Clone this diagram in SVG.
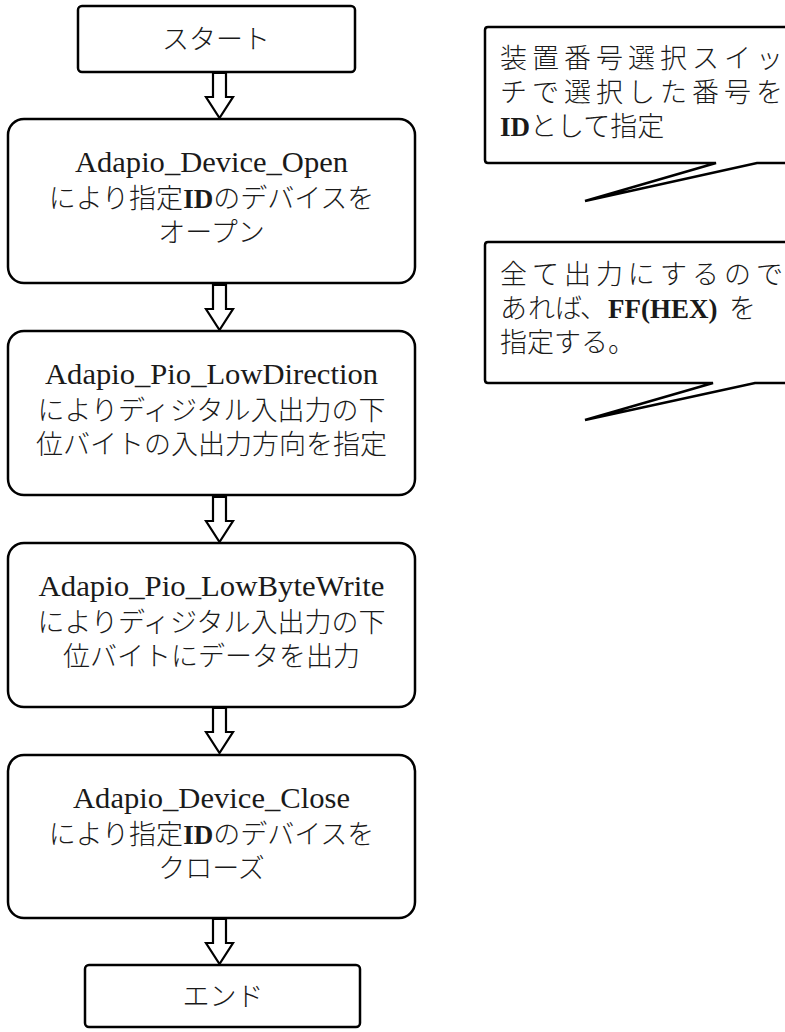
<svg xmlns="http://www.w3.org/2000/svg" xmlns:xlink="http://www.w3.org/1999/xlink" width="785" height="1032" viewBox="0 0 785 1032">
<style>
.box{fill:#fff;stroke:#000;stroke-width:2.5}
.arrow{fill:#fff;stroke:#000;stroke-width:2.2;stroke-linejoin:miter}
.t{font-family:'Liberation Serif','Noto Sans CJK JP',serif;font-size:27px;fill:#1a1a1a;font-weight:300}
.m{text-anchor:middle}
.lat{font-family:'Liberation Serif',serif;font-size:29px;font-weight:400}
.b{font-family:'Liberation Serif',serif;font-weight:700;font-size:27px}
</style>
<defs>
<path id="arr" d="M -6.5 0 H 6.5 V 24 H 13.5 L 0 45 L -13.5 24 H -6.5 Z"/>
</defs>
<rect width="785" height="1032" fill="#fff"/>
<g id="connectors">
<use xlink:href="#arr" class="arrow" transform="translate(219.5,73)"/>
<use xlink:href="#arr" class="arrow" transform="translate(219.5,285)"/>
<use xlink:href="#arr" class="arrow" transform="translate(219.5,497)"/>
<use xlink:href="#arr" class="arrow" transform="translate(219.5,708)"/>
<use xlink:href="#arr" class="arrow" transform="translate(219.5,919)"/>
</g>
<g id="start">
<rect class="box" x="78" y="6" width="277" height="66" rx="4"/>
<text class="t m" x="216" y="49">スタート</text>
</g>
<g id="open">
<rect class="box" x="8" y="119" width="407" height="164" rx="16"/>
<text class="t m lat" x="211.5" y="172" textLength="273" lengthAdjust="spacingAndGlyphs">Adapio_Device_Open</text>
<text class="t m" x="211.5" y="208">により指定<tspan class="b">ID</tspan>のデバイスを</text>
<text class="t m" x="211.5" y="242">オープン</text>
</g>
<g id="direction">
<rect class="box" x="8" y="331" width="407" height="164" rx="16"/>
<text class="t m lat" x="211.5" y="384" textLength="333" lengthAdjust="spacingAndGlyphs">Adapio_Pio_LowDirection</text>
<text class="t m" x="211.5" y="420">によりディジタル入出力の下</text>
<text class="t m" x="211.5" y="454">位バイトの入出力方向を指定</text>
</g>
<g id="write">
<rect class="box" x="8" y="543" width="407" height="164" rx="16"/>
<text class="t m lat" x="211.5" y="596" textLength="346" lengthAdjust="spacingAndGlyphs">Adapio_Pio_LowByteWrite</text>
<text class="t m" x="211.5" y="632">によりディジタル入出力の下</text>
<text class="t m" x="211.5" y="666">位バイトにデータを出力</text>
</g>
<g id="close">
<rect class="box" x="8" y="755" width="407" height="163" rx="16"/>
<text class="t m lat" x="211.5" y="808" textLength="277" lengthAdjust="spacingAndGlyphs">Adapio_Device_Close</text>
<text class="t m" x="211.5" y="844">により指定<tspan class="b">ID</tspan>のデバイスを</text>
<text class="t m" x="211.5" y="878">クローズ</text>
</g>
<g id="end">
<rect class="box" x="85" y="965" width="275" height="62" rx="4"/>
<text class="t m" x="223" y="1006">エンド</text>
</g>
<g id="note1">
<path class="box" d="M 488 27 H 800 V 163 H 757 L 585 201 L 716 163 H 488 Q 485 163 485 160 V 30 Q 485 27 488 27 Z"/>
<text class="t" x="500" y="68" textLength="283" lengthAdjust="spacing">装置番号選択スイッ</text>
<text class="t" x="500" y="102" textLength="283" lengthAdjust="spacing">チで選択した番号を</text>
<text class="t" x="500" y="136"><tspan class="b">ID</tspan>として指定</text>
</g>
<g id="note2">
<path class="box" d="M 488 242 H 800 V 383 H 755 L 585 420 L 713 383 H 488 Q 485 383 485 380 V 245 Q 485 242 488 242 Z"/>
<text class="t" x="500" y="284" textLength="283" lengthAdjust="spacing">全て出力にするので</text>
<text class="t" y="318"><tspan x="500">あ</tspan><tspan x="528">れ</tspan><tspan x="555">ば</tspan><tspan x="580">、</tspan></text>
<text class="t b" x="608" y="318">FF(HEX)</text>
<text class="t" x="729" y="318">を</text>
<text class="t" x="500" y="352">指定する。</text>
</g>
</svg>
